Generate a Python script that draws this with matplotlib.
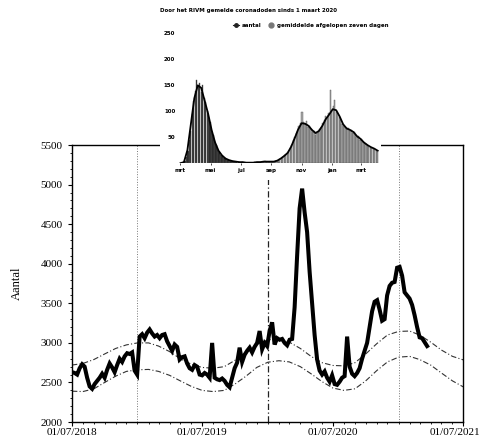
import numpy as np
import pandas as pd
import matplotlib
matplotlib.use('Agg')
import matplotlib.pyplot as plt
import matplotlib.dates as mdates
import matplotlib.transforms as mtransforms
from matplotlib.patches import Rectangle
from matplotlib.lines import Line2D

# weekly deaths (main line), first week starts 2018-07-02
week_start = '2018-07-02'
deaths = [2630, 2620, 2600, 2680, 2730, 2700, 2560, 2450, 2420, 2480,
          2520, 2560, 2610, 2560, 2660, 2740, 2690, 2630, 2720, 2800,
          2760, 2830, 2870, 2860, 2880, 2650, 2600, 3080, 3110, 3060,
          3130, 3170, 3120, 3080, 3100, 3060, 3100, 3110, 3020, 2960,
          2900, 2980, 2950, 2790, 2820, 2830, 2740, 2680, 2660, 2720,
          2700, 2600, 2590, 2620, 2600, 2560, 3000, 2560, 2540, 2530,
          2550, 2520, 2470, 2440, 2560, 2680, 2750, 2940, 2760, 2850,
          2900, 2940, 2880, 2950, 3000, 3150, 2920, 3000, 2960, 3150,
          3260, 2980, 3060, 3040, 3050, 3000, 2970, 3040, 3050, 3450,
          4100, 4700, 4950, 4650, 4400, 3900, 3500, 3100, 2790, 2650,
          2600, 2640, 2560, 2510, 2590, 2480, 2470, 2510, 2560, 2580,
          3080, 2700, 2610, 2580, 2620, 2680, 2800, 2900, 3000, 3200,
          3400, 3520, 3540, 3420, 3280, 3300, 3600, 3720, 3760, 3770,
          3950, 3960, 3850, 3640, 3600, 3560, 3480, 3350, 3200, 3070,
          3060, 3010, 2960]

# expected band, first of each month from 2018-07
band_start = '2018-07-01'
upper = [2720, 2740, 2790, 2860, 2930, 2975, 3000, 3000, 2960, 2890,
         2800, 2730, 2690, 2680, 2700, 2780, 2880, 2980, 3040, 3050,
         3010, 2930, 2830, 2750, 2715, 2710, 2750, 2860, 2990, 3100,
         3145, 3150, 3100, 3010, 2910, 2830, 2786]
lower = [2390, 2385, 2420, 2500, 2580, 2640, 2660, 2665, 2640, 2590,
         2520, 2450, 2400, 2385, 2400, 2480, 2580, 2690, 2756, 2775,
         2760, 2700, 2610, 2510, 2430, 2400, 2420, 2520, 2650, 2760,
         2820, 2830, 2790, 2720, 2620, 2520, 2445]

year_lines = ['2019-01-01', '2020-01-01', '2021-01-01']

# inset: reported covid deaths, every 3 days from 2020-03-01
inset_start = '2020-03-01'
reported = [0, 1, 2, 5, 12, 24, 45, 62, 95, 120, 140, 160, 148, 155, 138,
            150, 125, 118, 100, 88, 80, 62, 55, 42, 35, 26, 22, 16, 14, 10,
            9, 7, 6, 5, 4, 4, 3, 3, 2, 2, 2, 1, 2, 1, 1,
            1, 0, 1, 1, 1, 2, 1, 2, 2, 3, 2, 3, 4, 3, 3,
            2, 3, 2, 3, 4, 5, 6, 8, 10, 12, 16, 15, 20, 24, 30,
            35, 44, 50, 58, 62, 72, 78, 98, 80, 75, 82, 70, 72, 66, 60,
            62, 55, 58, 60, 66, 70, 78, 84, 90, 88, 96, 141, 100, 110, 122,
            98, 96, 88, 84, 76, 72, 70, 66, 68, 62, 64, 58, 60, 54, 50,
            52, 45, 46, 40, 38, 36, 34, 32, 30, 30, 27, 25, 24, 22]
# 7-day average, weekly from 2020-03-01
avg7 = [0, 2, 25, 75, 125, 150, 145, 120, 95, 64, 40, 24, 15, 9, 6,
        4, 3, 2, 2, 1, 1, 1, 2, 2, 3, 3, 3, 3, 5, 9,
        14, 20, 32, 48, 65, 77, 76, 72, 64, 58, 62, 72, 85, 94, 104,
        102, 90, 75, 67, 64, 60, 52, 47, 40, 35, 31, 28, 24]
inset_months = ['mrt', 'mei', 'jul', 'sep', 'nov', 'jan', 'mrt']

week_dates = pd.date_range(week_start, periods=len(deaths), freq='7D')
band_dates = pd.date_range(band_start, periods=len(upper), freq='MS')
bar_dates = pd.date_range(inset_start, periods=len(reported), freq='3D')
avg_dates = pd.date_range(inset_start, periods=len(avg7), freq='7D')

fig = plt.figure(figsize=(4.85, 4.41), dpi=100)
ax = fig.add_axes([0.148, 0.043, 0.807, 0.628])

dash_dot = (0, (5, 2, 1, 2))
ax.plot(band_dates, upper, color='#333333', lw=0.8, ls=dash_dot)
ax.plot(band_dates, lower, color='#333333', lw=0.8, ls=dash_dot)
for i, d in enumerate(year_lines):
    ax.axvline(pd.Timestamp(d), color='#222222' if i == 1 else '#777777',
               lw=0.9 if i == 1 else 0.7, ls=dash_dot if i == 1 else ':')
ax.plot(week_dates, deaths, color='black', lw=2.9, solid_joinstyle='miter')

ax.set_xlim(pd.Timestamp('2018-07-01'), pd.Timestamp('2021-07-01'))
ax.set_ylim(2000, 5500)
ax.set_yticks(np.arange(2000, 5501, 500))
ax.xaxis.set_major_locator(mdates.MonthLocator(bymonth=7, bymonthday=1))
ax.xaxis.set_major_formatter(mdates.DateFormatter('%d/%m/%Y'))
ax.xaxis.set_minor_locator(mdates.MonthLocator())
ax.yaxis.set_minor_locator(plt.MultipleLocator(100))
ax.tick_params(axis='both', which='major', labelsize=8, length=3, width=0.8)
ax.tick_params(axis='x', which='major', pad=1)
ax.tick_params(axis='both', which='minor', length=1.5, width=0.6)
for lab in ax.get_xticklabels() + ax.get_yticklabels():
    lab.set_family('Liberation Serif')
# last date label sits against the right edge of the picture
last = ax.get_xticklabels()[-1]
last.set_transform(last.get_transform() +
                   mtransforms.ScaledTranslation(-6 / 72, 0, fig.dpi_scale_trans))
ax.set_ylabel('Aantal', fontsize=9, family='Liberation Serif', labelpad=13)
for s in ax.spines.values():
    s.set_linewidth(1.0)

# white box behind the inset hides the top of the main frame
fig.patches.append(Rectangle((0.33, 0.592), 0.455, 0.408, transform=fig.transFigure,
                             facecolor='white', edgecolor='none', zorder=1))

ax2 = fig.add_axes([0.367, 0.630, 0.421, 0.306], zorder=2)
ax2.patch.set_alpha(0)
bar_colors = ['#222222' if d < pd.Timestamp('2020-07-01') else '#aaaaaa' for d in bar_dates]
ax2.bar(bar_dates, reported, width=2.6, color=bar_colors, edgecolor='#555555', linewidth=0.3)
ax2.plot(avg_dates, avg7, color='black', lw=1.3)
ax2.set_xlim(pd.Timestamp('2020-02-25'), pd.Timestamp('2021-04-13'))
ax2.set_ylim(0, 260)
ax2.set_yticks([50, 100, 150, 200, 250])
month_ticks = pd.date_range('2020-03-01', periods=len(inset_months), freq='2MS')
ax2.set_xticks(month_ticks)
ax2.set_xticklabels(inset_months)
ax2.tick_params(axis='both', labelsize=4, length=1.5, width=0.5, pad=2)
for lab in ax2.get_xticklabels() + ax2.get_yticklabels():
    lab.set_fontweight('bold')
ax2.tick_params(axis='y', length=0)
for s in ax2.spines.values():
    s.set_visible(False)

fig.text(0.33, 0.977, 'Door het RIVM gemelde coronadoden sinds 1 maart 2020',
         fontsize=4, fontweight='bold', ha='left', va='center')
handles = [Line2D([], [], color='#222222', marker='o', markersize=2.5, lw=0.8),
           Line2D([], [], color='#777777', marker='o', markersize=3.5, lw=0)]
fig.legend(handles, ['aantal', 'gemiddelde afgelopen zeven dagen'],
           loc='center', bbox_to_anchor=(0.64, 0.943), ncol=2, frameon=False,
           prop={'size': 4, 'weight': 'bold'}, handlelength=1.2, columnspacing=1.2,
           handletextpad=0.4)

fig.savefig('out.png', dpi=100)
